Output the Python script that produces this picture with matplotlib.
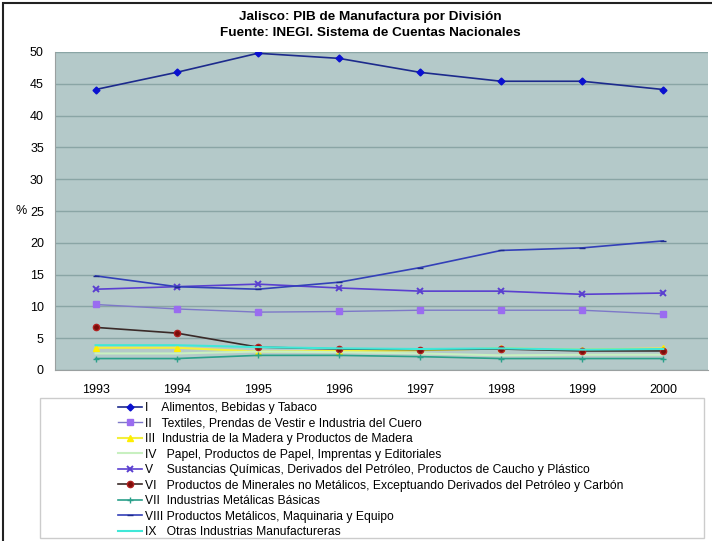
import matplotlib
matplotlib.use("Agg")
import matplotlib.pyplot as plt
from matplotlib.patches import Rectangle

plt.rcParams['font.family'] = ['Liberation Sans', 'DejaVu Sans']

years = [1993, 1994, 1995, 1996, 1997, 1998, 1999, 2000]

div_i = [44.1, 46.8, 49.8, 49.0, 46.8, 45.4, 45.4, 44.1]
div_ii = [10.3, 9.6, 9.1, 9.2, 9.4, 9.4, 9.4, 8.8]
div_iii = [3.5, 3.5, 2.9, 3.0, 3.1, 3.4, 3.2, 3.4]
div_iv = [2.6, 2.6, 2.9, 2.8, 2.6, 2.3, 2.4, 2.4]
div_v = [12.7, 13.1, 13.5, 12.9, 12.4, 12.4, 11.9, 12.1]
div_vi = [6.7, 5.8, 3.6, 3.3, 3.2, 3.3, 3.0, 3.0]
div_vii = [1.8, 1.8, 2.3, 2.3, 2.1, 1.8, 1.8, 1.8]
div_viii = [14.8, 13.1, 12.7, 13.8, 16.1, 18.8, 19.2, 20.3]
div_ix = [3.9, 3.9, 3.6, 3.4, 3.3, 3.4, 3.2, 3.3]

labels = [
    "I    Alimentos, Bebidas y Tabaco",
    "II   Textiles, Prendas de Vestir e Industria del Cuero",
    "III  Industria de la Madera y Productos de Madera",
    "IV   Papel, Productos de Papel, Imprentas y Editoriales",
    "V    Sustancias Químicas, Derivados del Petróleo, Productos de Caucho y Plástico",
    "VI   Productos de Minerales no Metálicos, Exceptuando Derivados del Petróleo y Carbón",
    "VII  Industrias Metálicas Básicas",
    "VIII Productos Metálicos, Maquinaria y Equipo",
    "IX   Otras Industrias Manufactureras",
]

series = [div_i, div_ii, div_iii, div_iv, div_v, div_vi, div_vii, div_viii, div_ix]
styles = [
    dict(color="#1c2a8c", marker="D", ms=3.5, mfc="#0a10d0", mec="#0a10d0", lw=1.2),
    dict(color="#7d78c8", marker="s", ms=4, mfc="#9a6cf0", mec="#9a6cf0", lw=1.0),
    dict(color="#f3ef3c", marker="^", ms=4, mfc="#ffee00", mec="#ffee00", lw=1.5),
    dict(color="#c8f0c0", marker=None, lw=1.5),
    dict(color="#5a3fd0", marker="x", ms=4.5, mfc="#5a3fd0", mec="#5a3fd0", mew=1.4, lw=1.2),
    dict(color="#3a2a28", marker="o", ms=4.5, mfc="#7a0e0a", mec="#b02020", lw=1.2),
    dict(color="#2aa08a", marker="+", ms=5, mec="#2aa08a", mew=1.0, lw=1.2),
    dict(color="#3340b8", marker="_", ms=4, mec="#1c2a8c", lw=1.2),
    dict(color="#40e8d8", marker=None, lw=1.5),
]

fig = plt.figure(figsize=(7.12, 5.41), dpi=100)
W, H = 712, 541

# outer chart frame
fig.patches.append(Rectangle((3 / W, -0.1), 1.2, 1 - 3 / H + 0.1, transform=fig.transFigure,
                             fill=False, edgecolor="#222222", lw=1.5))
# legend area box
fig.patches.append(Rectangle((40 / W, 1 - 538 / H), (704 - 40) / W, (538 - 398) / H,
                             transform=fig.transFigure, fill=False,
                             edgecolor="#cccccc", lw=1.0))

ax = fig.add_axes([55 / W, 1 - 370 / H, (708 - 55) / W, (370 - 52) / H])
ax.set_facecolor("#b4c9c9")

for vals, st, lab in zip(series, styles, labels):
    ax.plot(years, vals, label=lab, **st)

ax.set_ylim(0, 50)
ax.set_xlim(1992.5, 2000.55)
ax.set_yticks(range(0, 51, 5))
ax.set_xticks(years)
ax.yaxis.grid(True, color="#8aa5a5", lw=1.0)
ax.set_axisbelow(True)
for s in ["top", "right"]:
    ax.spines[s].set_visible(False)
ax.spines["left"].set_color("#9aa0a0")
ax.spines["bottom"].set_color("#9aa0a0")
ax.tick_params(axis="both", labelsize=9, length=0, pad=8)
ax.tick_params(axis="x", pad=10)
ax.text(-0.043, 0.5, "%", transform=ax.transAxes, ha="right", va="center", fontsize=9)

fig.text(0.52, 1 - 17 / H, "Jalisco: PIB de Manufactura por División",
         ha="center", va="center", fontsize=9.7, fontweight="bold")
fig.text(0.52, 1 - 33 / H, "Fuente: INEGI. Sistema de Cuentas Nacionales",
         ha="center", va="center", fontsize=9.7, fontweight="bold")

handles, labs = ax.get_legend_handles_labels()
leg = fig.legend(handles, labs, loc="upper left",
                 bbox_to_anchor=(118 / W, 1 - 402 / H),
                 frameon=False, fontsize=8.7,
                 handlelength=2.0, handletextpad=0.25, labelspacing=0.29,
                 borderpad=0.0, borderaxespad=0)

fig.savefig("out.png", dpi=100)
